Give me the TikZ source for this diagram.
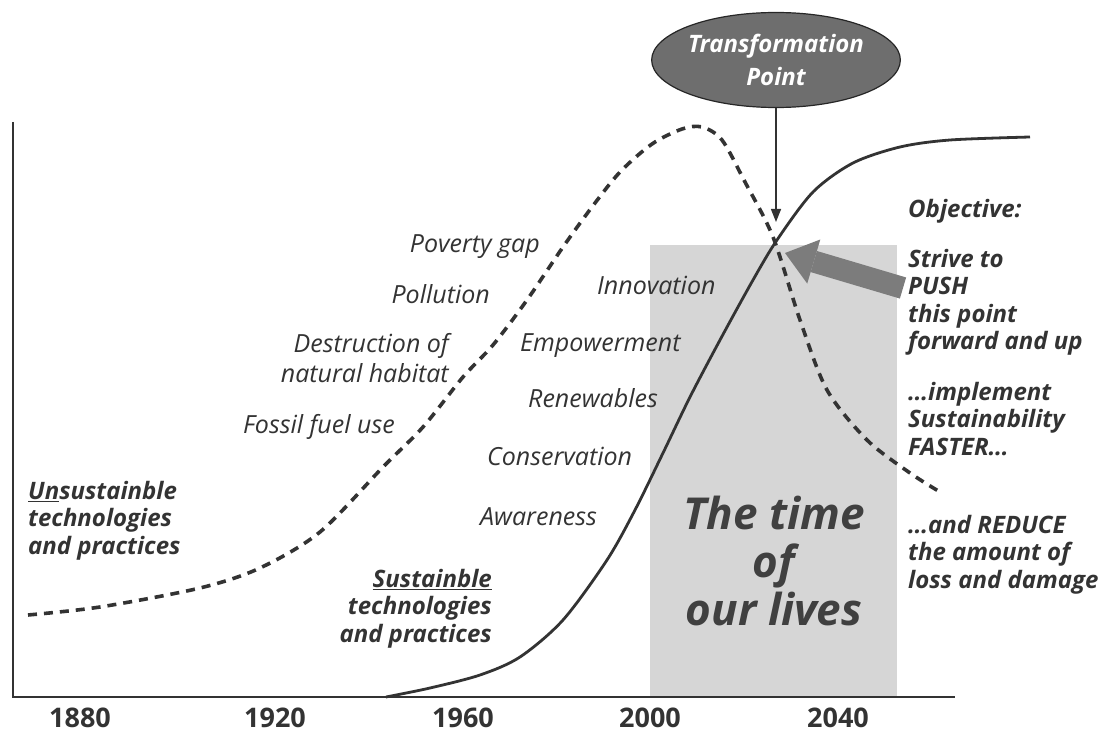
\documentclass[tikz,border=0pt]{standalone}
\usepackage{fontspec}
\setmainfont{Open Sans}
\usetikzlibrary{arrows.meta,shapes.geometric}
\definecolor{ink}{HTML}{333333}
\definecolor{lifegray}{HTML}{D6D6D6}
\definecolor{blobgray}{HTML}{6E6E6E}
\definecolor{pushgray}{HTML}{7C7C7C}
\tikzset{
  lbl/.style={font=\fontsize{25}{30}\selectfont\itshape, text=ink, inner sep=0pt},
  boldlbl/.style={font=\fontsize{24}{27.5}\selectfont\bfseries\itshape, text=ink, inner sep=0pt},
  yearlbl/.style={font=\fontsize{27}{30}\selectfont\bfseries, text=ink, inner sep=0pt, anchor=base},
}
\begin{document}
\begin{tikzpicture}[x=1pt,y=-1pt]
\useasboundingbox (0,0) rectangle (1111,735);

\fill[lifegray] (650,245) rectangle (897,697);
\draw[ink, line width=1.6pt] (13,122) -- (13,697) -- (955,697);

\draw[ink, line width=3.6pt, dash pattern=on 9pt off 7pt] plot[smooth] coordinates {
  (28,615) (100,607) (200,588) (260,568) (320,532) (383,467) (423,427)
  (463,377) (493,345) (527,300) (563,247) (592,207) (620,172) (652,144)
  (682,129) (702,127) (722,140) (745,182) (773,237) (800,320) (827,390)
  (867,440) (910,473) (940,492)};
\draw[ink, line width=2.8pt] plot[smooth] coordinates {
  (386,697) (430,688) (480,675) (520,657) (563,620) (607,560) (635,510)
  (663,453) (690,397) (720,340) (753,280) (777,240) (813,192) (853,163)
  (900,147) (950,140) (1030,137)};

\begin{scope}[every node/.style={lbl}]
    \node[anchor=base east] (poverty) at (540,253) {Poverty gap};
    \node[anchor=base east] (pollution) at (490,304) {Pollution};
    \node[anchor=north east, align=right] (habitat) at (449,333) {Destruction of\\natural habitat};
    \node[anchor=base east] (fossil) at (395,433) {Fossil fuel use};
    \node[anchor=base west] (innovation) at (597,295) {Innovation};
    \node[anchor=base west] (empower) at (520,352) {Empowerment};
    \node[anchor=base west] (renew) at (528,407) {Renewables};
    \node[anchor=base west] (conserve) at (487,465) {Conservation};
    \node[anchor=base west] (aware) at (480,525) {Awareness};
\end{scope}

\begin{scope}[every node/.style={boldlbl}]
    \node[anchor=base west] (objective) at (908,218) {Objective:};
    \node[anchor=north west, align=left] (strive) at (908,249) {Strive to\\PUSH\\this point\\forward and up};
    \node[anchor=north west, align=left] (faster) at (908,382) {\ldots implement\\Sustainability\\FASTER\ldots};
    \node[anchor=north west, align=left] (reduce) at (908,515) {\ldots and REDUCE\\the amount of\\loss and damage};
    \node[anchor=north west, align=left] (unsust) at (28,481) {\underline{Un}sustainble\\technologies\\and practices};
    \node[anchor=north east, align=right] (sust) at (492,569) {\underline{Sustainble}\\technologies\\and practices};
\end{scope}

\node[font=\fontsize{44}{48}\selectfont\bfseries\itshape, text=black!75, align=center] (ourlives) at (774,561) {The time\\of\\our lives};

\foreach \yr/\xx in {1880/80, 1920/275, 1960/463, 2000/650, 2040/838}
    \node[yearlbl] (y\yr) at (\xx,727) {\yr};

\node[ellipse, draw=black!85, line width=1.2pt, fill=blobgray, minimum width=236pt, minimum height=95pt,
      inner sep=0pt, text=white, font=\fontsize{24}{33}\selectfont\bfseries\itshape, align=center]
      (tpoint) at (776,60) {Transformation\\Point};
\coordinate (cross) at (776,222);
\draw[ink, line width=1.4pt, -{Triangle[length=13pt,width=10pt]}] (tpoint.south) -- (cross);

\coordinate (pushtail) at (903,288);
\coordinate (pushtip) at (785,253);
\draw[pushgray, line width=22pt, -{Triangle[length=30pt,width=46pt,line width=0pt]}] (pushtail) -- (pushtip);
\end{tikzpicture}
\end{document}
